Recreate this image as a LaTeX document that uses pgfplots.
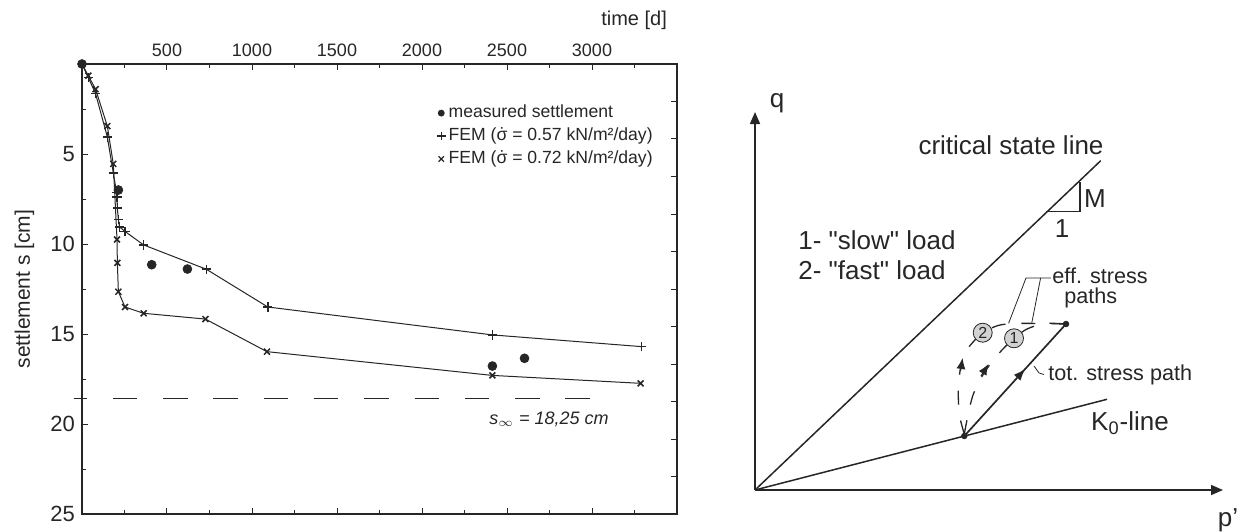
\documentclass[border=0pt]{standalone}
\usepackage{fontspec}
\setmainfont{Liberation Sans}
\usepackage{pgfplots}
\pgfplotsset{compat=1.18}
\usetikzlibrary{arrows.meta,decorations.markings}
\definecolor{ink}{HTML}{262626}
\def\fs#1{\fontsize{#1pt}{#1pt}\selectfont}
\def\sigdot{\smash{$\dot{\hbox{σ}}$}}

\pgfplotstableread{
t s
0 0
37 0.75
80 1.65
149 4.05
184 6.05
204 7.15
206 7.4
208 8.0
214 8.65
221 9.05
253 9.3
362 10.05
731 11.4
1093 13.5
2414 15.05
3290 15.7
}\femslow
\pgfplotstableread{
t s
0 0
37 0.65
80 1.4
149 3.45
184 5.55
206 9.75
208 11.05
214 12.65
253 13.5
363 13.85
726 14.17
1088 15.98
2414 17.3
3286 17.74
}\femfast
\pgfplotstableread{
t s
0 0
214 7.0
410 11.15
620 11.39
2414 16.78
2603 16.35
}\measured

\begin{document}
\begin{tikzpicture}
\path[use as bounding box] (0,0) rectangle (620.5pt,265.5pt);

% ---- settlement against time
\begin{axis}[at={(41pt,8.5pt)}, anchor=south west, scale only axis,
  width=297.5pt, height=225pt,
  xmin=0, xmax=3500, ymin=0, ymax=25, y dir=reverse,
  xtick={500,1000,...,3000}, minor xtick={250,750,...,3250},
  xtick pos=both, xticklabel pos=upper,
  ytick={5,10,...,25}, minor ytick={2.5,7.5,...,22.5}, ytick pos=left,
  tick align=inside, major tick length=3pt, minor tick length=2pt,
  tick style={ink, line width=0.5pt},
  axis line style={ink, line width=0.6pt},
  /pgf/number format/assume math mode=true,
  /pgf/number format/1000 sep={},
  xticklabel style={font=\fs{9}, text=ink},
  yticklabel style={font=\fs{11}, text=ink},
  ylabel={settlement s [cm]},
  ylabel style={font=\fs{10.5}, text=ink, at={(axis description cs:-0.0966,0.5)}, anchor=center},
  clip=false,
  legend style={at={(axis cs:2085,2.1)}, anchor=north west, draw=none, fill=none,
    font=\fs{8.8}, text=ink, row sep=0.6pt, inner sep=0pt, nodes={inner sep=1.5pt}},
  legend cell align=left,
  legend image code/.code={\draw[#1] plot coordinates {(0.12cm,0cm)};},
]
\addlegendimage{only marks, mark=*, mark size=1.5pt, ink}
\addlegendentry{measured settlement}
\addlegendimage{only marks, mark=+, mark size=2.2pt, ink, mark options={line width=0.6pt}}
\addlegendentry{FEM (\sigdot\ = 0.57 kN/m²/day)}
\addlegendimage{only marks, mark=x, mark size=1.9pt, ink, mark options={line width=0.6pt}}
\addlegendentry{FEM (\sigdot\ = 0.72 kN/m²/day)}

\addplot[forget plot, ink, line width=0.5pt, mark=+, mark size=2.3pt,
  mark options={line width=0.75pt}, mark indices={2,...,20}] table[x=t,y=s] {\femslow};
\addplot[forget plot, ink, line width=0.5pt, mark=x, mark size=2.1pt,
  mark options={line width=0.75pt}, mark indices={2,...,20}] table[x=t,y=s] {\femfast};
\addplot[forget plot, only marks, ink, mark=*, mark size=2.2pt] table[x=t,y=s] {\measured};
\addplot[forget plot, ink, line width=0.5pt, dash pattern=on 12.25pt off 12.9pt, dash phase=5.6pt]
  coordinates {(-49,18.6) (3068,18.6)};

\node[font=\fs{9}, text=ink] at (axis cs:2747,19.72)
  {\itshape s\textsubscript{\upshape\ensuremath{\infty}} = 18,25 cm};
\node[font=\fs{10}, text=ink, anchor=east] at (axis cs:3482,-2.45) {time [d]};
\end{axis}

% ---- ticks of the right-hand border
\begin{axis}[at={(41pt,8.5pt)}, anchor=south west, scale only axis,
  width=297.5pt, height=225pt,
  xmin=0, xmax=1, ymin=0, ymax=12,
  axis x line=none, axis y line*=right, y axis line style={draw=none},
  ytick={1,...,11}, yticklabels={}, tick align=inside, major tick length=3pt,
  tick style={ink, line width=0.5pt}]
\addplot[draw=none] coordinates {(0.5,6)};
\end{axis}

% ---- stress paths in p'-q plane
\begin{axis}[at={(377.5pt,20.5pt)}, anchor=south west, scale only axis,
  width=234pt, height=189pt,
  xmin=0, xmax=468, ymin=0, ymax=378,
  axis lines=left, xtick=\empty, ytick=\empty,
  axis line style={ink, line width=0.8pt, -{Triangle[length=6pt,width=5pt]}},
  clip=false]
\addplot[ink, line width=0.75pt] coordinates {(0,0) (345.7,329.3)};
\addplot[ink, line width=0.75pt] coordinates {(0,0) (352,90.7)};
\addplot[ink, line width=0.6pt] coordinates {(291,278.3) (325,278.3) (325,308.3)};
% total stress path
\addplot[ink, line width=0.85pt,
  decoration={markings, mark=at position 0.6 with {\arrow{Latex[length=6pt,width=4.5pt]}}},
  postaction={decorate}] coordinates {(209.3,54) (311,166)};
\addplot[only marks, ink, mark=*, mark size=1.4pt] coordinates {(311,166) (209.3,54)};
% effective stress paths
\addplot[ink, line width=0.65pt, smooth, dash pattern=on 7pt off 8pt]
  coordinates {(209.3,56) (204.5,75) (203.3,100) (206,125) (212,140) (219,149) (227.7,157.3) (243,164.5) (260,166.5) (285,166.5) (311,166)};
\addplot[ink, line width=0.65pt, smooth, dash pattern=on 7pt off 8pt]
  coordinates {(209.3,56) (213,75) (218,95) (226,112) (236,127) (247,140) (259,151.7) (272,161) (290,166.5) (311,166)};
\addplot[ink, line width=0.5pt, -{Latex[length=5.5pt,width=4.5pt]}] coordinates {(205.6,119) (207.6,132)};
\addplot[ink, line width=0.5pt, -{Latex[length=5.5pt,width=4.5pt]}] coordinates {(226,114) (233.5,126)};
\node[circle, draw=ink, fill=gray!35, line width=0.4pt, inner sep=0pt, minimum size=9.5pt, font=\fs{8}, text=ink] at (axis cs:227.7,157.3) {2};
\node[circle, draw=ink, fill=gray!35, line width=0.4pt, inner sep=0pt, minimum size=9.5pt, font=\fs{8}, text=ink] at (axis cs:259,151.7) {1};
% leaders
\addplot[ink, line width=0.4pt] coordinates {(296,212) (271,212) (253.6,166.7)};
\addplot[ink, line width=0.4pt] coordinates {(285.6,212) (276.7,166.7)};
\addplot[ink, line width=0.4pt] coordinates {(279,124) (284,117) (289,115.5)};

\node[font=\fs{13}, text=ink] at (axis cs:256,345) {critical state line};
\node[font=\fs{13}, text=ink] at (axis cs:340,291.7) {M};
\node[font=\fs{13}, text=ink] at (axis cs:307,261.7) {1};
\node[font=\fs{13}, text=ink, anchor=west, inner sep=0pt] at (axis cs:43,250) {1- \textquotedbl slow\textquotedbl\ load};
\node[font=\fs{13}, text=ink, anchor=west, inner sep=0pt] at (axis cs:43,220) {2- \textquotedbl fast\textquotedbl\ load};
\node[font=\fs{10.8}, text=ink, anchor=west, inner sep=0pt] at (axis cs:297,214) {eff. stress};
\node[font=\fs{10.8}, text=ink, anchor=west, inner sep=0pt] at (axis cs:309,192) {paths};
\node[font=\fs{10.8}, text=ink, anchor=west, inner sep=0pt] at (axis cs:293,115) {tot. stress path};
\node[font=\fs{13}, text=ink] at (axis cs:375,67) {K\textsubscript{0}-line};
\node[font=\fs{13}, text=ink] at (axis cs:22,387) {q};
\node[font=\fs{13}, text=ink] at (axis cs:473,-30) {p'};
\end{axis}
\end{tikzpicture}
\end{document}
